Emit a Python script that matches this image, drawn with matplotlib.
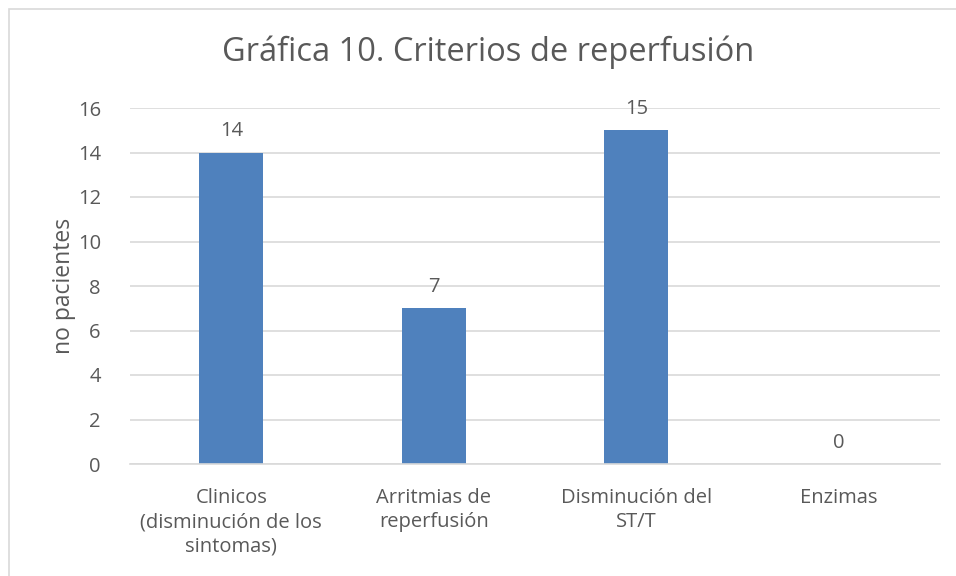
import matplotlib
matplotlib.use("Agg")
import matplotlib.pyplot as plt
from matplotlib.patches import Rectangle

categories = ["Clinicos\n(disminución de los\nsintomas)", "Arritmias de\nreperfusión",
              "Disminución del\nST/T", "Enzimas"]
values = [14, 7, 15, 0]
yticks = [0, 2, 4, 6, 8, 10, 12, 14, 16]

TXT = "#595959"
plt.rcParams["font.family"] = ["Open Sans", "DejaVu Sans"]

fig = plt.figure(figsize=(9.56, 5.76), dpi=100)
ax = fig.add_axes([130 / 956, 112 / 576, 810 / 956, 356 / 576])

# chart border (runs off the right/bottom edge like the source screenshot)
fig.patches.append(Rectangle((9 / 956, -0.05), 1.2, 1 - 9 / 576 + 0.05,
                             transform=fig.transFigure, fill=False,
                             ec="#D9D9D9", lw=1.2))

xs = range(len(values))
bars = ax.bar(xs, values, width=0.316, color="#4F81BD", zorder=2)
for b, v in zip(bars, values):
    ax.text(b.get_x() + b.get_width() / 2, v + 0.5, f"{v}", ha="center", va="bottom",
            fontsize=14.5, color=TXT)

ax.set_xlim(-0.5, len(values) - 0.5)
ax.set_ylim(0, 16)
ax.set_yticks(yticks)
ax.set_xticks(list(xs), categories, linespacing=1.3)
ax.yaxis.grid(True, color="#D9D9D9", lw=1.2, zorder=0)
ax.tick_params(axis="both", length=0, labelsize=14.5, colors=TXT)
ax.tick_params(axis="x", pad=17)
ax.tick_params(axis="y", pad=21)
for s in ["top", "right", "left"]:
    ax.spines[s].set_visible(False)
ax.spines["bottom"].set_color("#D9D9D9")
ax.spines["bottom"].set_linewidth(1.2)
ax.set_ylabel("no pacientes", fontsize=16.5, color=TXT)
ax.yaxis.set_label_coords(-0.067, 0.5)

fig.text(488 / 956, 1 - 52 / 576, "Gráfica 10. Criterios de reperfusión", ha="center",
         va="center", fontsize=23.5, color=TXT)

fig.savefig("out.png", dpi=100)
